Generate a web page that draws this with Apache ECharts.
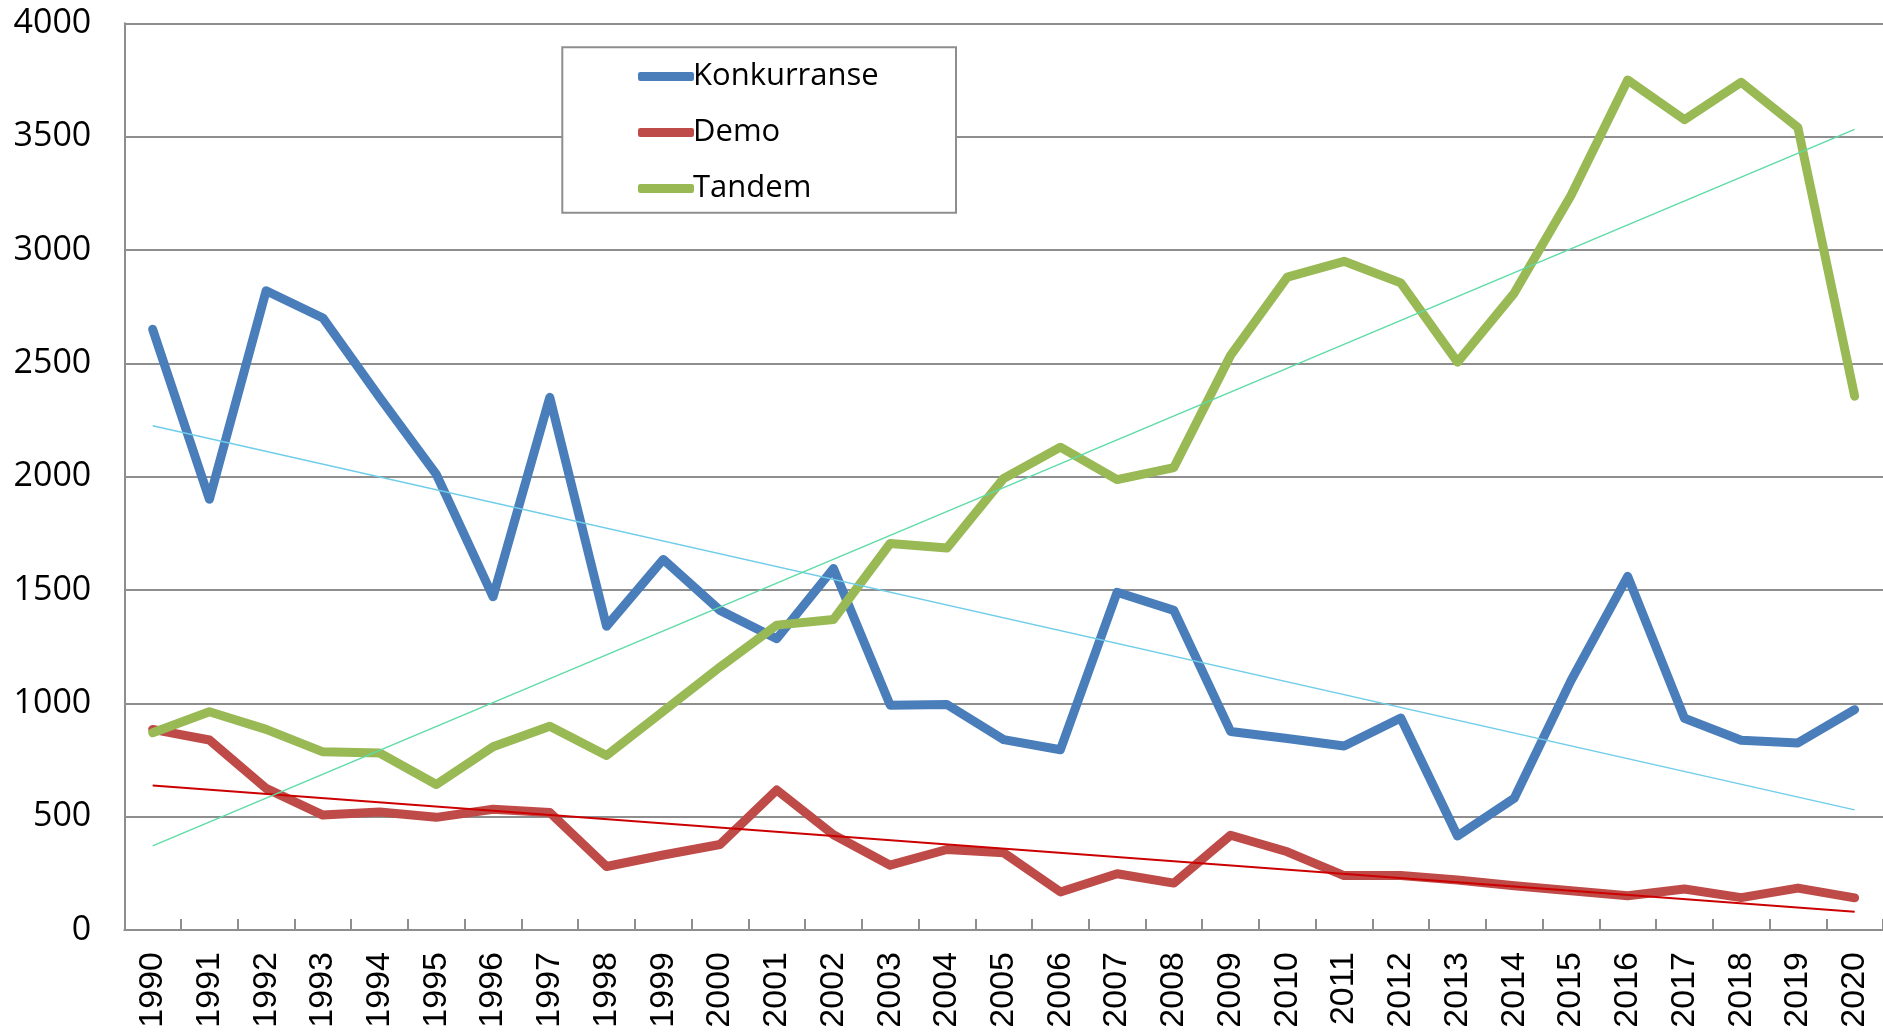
<!DOCTYPE html>
<html>
<head>
<meta charset="utf-8">
<script src="https://cdn.jsdelivr.net/npm/echarts@6/dist/echarts.min.js"></script>
<style>
html,body{margin:0;padding:0;background:#fff;}
#chart{width:1883px;height:1034px;}
</style>
</head>
<body>
<div id="chart"></div>
<script>
var years = ['1990','1991','1992','1993','1994','1995','1996','1997','1998','1999','2000','2001','2002','2003','2004','2005','2006','2007','2008','2009','2010','2011','2012','2013','2014','2015','2016','2017','2018','2019','2020'];
var konkurranse = [2650,1900,2820,2700,2350,2010,1470,2350,1340,1635,1410,1285,1595,992,995,840,795,1490,1410,876,845,812,935,415,581,1100,1560,934,837,825,972];
var demo = [885,838,625,507,521,497,533,518,280,331,377,618,420,286,355,341,168,248,207,418,345,240,240,221,195,173,151,181,143,185,142];
var tandem = [870,963,885,786,781,642,808,899,770,965,1160,1345,1370,1705,1685,1992,2130,1987,2040,2535,2880,2950,2855,2505,2810,3240,3750,3575,3740,3540,2355];
// trend line endpoints
var trendYears = ['1990','2020'];
var trendKonkurranse = [2225, 530];
var trendDemo = [638, 80];
var trendTandem = [371, 3532];
var yTicks = {min:0, max:4000, interval:500};

function pairs(xs, ys){ return xs.map(function(x,i){return [x, ys[i]];}); }

var chart = echarts.init(document.getElementById('chart'), null, {renderer:'canvas'});
var grey = '#8e8e8e';
var mainLine = function(name, data, color){
  return {name:name, type:'line', data:data, showSymbol:false, symbol:'none',
    lineStyle:{color:color, width:9, cap:'round', join:'round'}, itemStyle:{color:color}, z:3};
};
var trendLine = function(name, data, color, w){
  return {name:name, type:'line', data:data, showSymbol:false, symbol:'none',
    lineStyle:{color:color, width:w}, itemStyle:{color:color}, z:4, silent:true};
};
chart.setOption({
  animation:false,
  backgroundColor:'#ffffff',
  grid:{left:124.3, right:-5.6, top:23.3, bottom:104, containLabel:false},
  xAxis:{type:'category', data:years, boundaryGap:true,
    axisLine:{show:true, lineStyle:{color:grey, width:2}},
    axisTick:{show:true, inside:true, length:11, lineStyle:{color:grey, width:2}},
    axisLabel:{rotate:90, fontFamily:'Liberation Sans', fontSize:34, color:'#000', margin:22, interval:0},
    splitLine:{show:false}},
  yAxis:{type:'value', min:yTicks.min, max:yTicks.max, interval:yTicks.interval,
    axisLine:{show:true, lineStyle:{color:grey, width:2}},
    axisTick:{show:false},
    axisLabel:{fontFamily:'Open Sans', fontSize:34, color:'#000', margin:33,
      formatter:function(v){return String(v);}},
    splitLine:{show:true, lineStyle:{color:grey, width:2}}},
  legend:{show:true, orient:'vertical', left:633, top:56, itemWidth:56, itemHeight:9, itemGap:25,
    icon:'roundRect', textStyle:{fontFamily:'Open Sans', fontSize:31, color:'#000', padding:[0,0,0,-6]},
    data:['Konkurranse','Demo','Tandem'], selectedMode:false},
  graphic:[{type:'rect', shape:{x:562.3, y:47.3, width:393.7, height:165.4},
    style:{fill:'#ffffff', stroke:grey, lineWidth:2}, z:1, zlevel:0}],
  series:[
    mainLine('Konkurranse', konkurranse, '#4a7ebb'),
    mainLine('Demo', demo, '#be4b48'),
    mainLine('Tandem', tandem, '#98b954'),
    trendLine('trendK', pairs(trendYears, trendKonkurranse), '#6fcdea', 1.5),
    trendLine('trendD', pairs(trendYears, trendDemo), '#cc0000', 2),
    trendLine('trendT', pairs(trendYears, trendTandem), '#5edba6', 1.5)
  ]
});
</script>
</body>
</html>
